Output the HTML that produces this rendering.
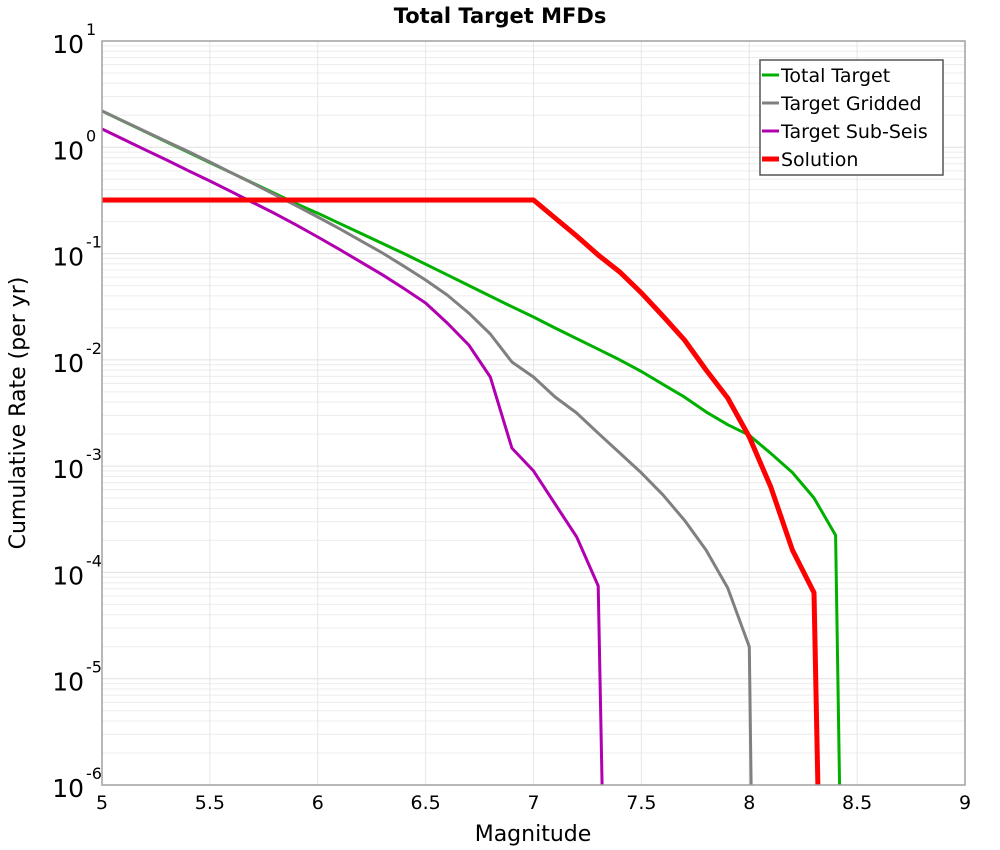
<!DOCTYPE html>
<html><head><meta charset="utf-8"><style>
body{margin:0;background:#fff;}
svg{display:block;font-family:"DejaVu Sans","Liberation Sans",sans-serif;}
</style></head><body>
<svg id="chart" width="1000" height="850" viewBox="0 0 1000 850">
<text x="500" y="23" text-anchor="middle" font-size="21" font-weight="bold">Total Target MFDs</text>
<g id="grid"></g>
<g id="yticks"></g>
<g id="xticks"></g>
<defs><clipPath id="clip"><rect x="102" y="41" width="863" height="744"/></clipPath></defs>
<g id="series" clip-path="url(#clip)"></g>
<rect x="102" y="41" width="863" height="744" fill="none" stroke="#a0a0a0" stroke-width="1.5"/>
<text x="533" y="841" text-anchor="middle" font-size="22">Magnitude</text>
<text transform="translate(25,413) rotate(-90)" text-anchor="middle" font-size="22">Cumulative Rate (per yr)</text>
<g>
<rect x="760" y="60" width="183" height="115" fill="#fff" stroke="#555" stroke-width="1.5"/>
<g><line x1="762" y1="75" x2="779" y2="75" stroke="#00b000" stroke-width="3"/><text x="781" y="82" font-size="19">Total Target</text></g>
<g><line x1="762" y1="103" x2="779" y2="103" stroke="#808080" stroke-width="3"/><text x="781" y="110" font-size="19">Target Gridded</text></g>
<g><line x1="762" y1="131" x2="779" y2="131" stroke="#b000b0" stroke-width="3"/><text x="781" y="138" font-size="19">Target Sub-Seis</text></g>
<g><line x1="762" y1="159" x2="779" y2="159" stroke="#ff0000" stroke-width="5"/><text x="781" y="166" font-size="19">Solution</text></g>
</g>
</svg>
<script>
// magnitudes and log10 cumulative rates
const greenMag = [5.0,5.1,5.2,5.3,5.4,5.5,5.6,5.7,5.8,5.9,6.0,6.1,6.2,6.3,6.4,6.5,6.6,6.7,6.8,6.9,7.0,7.1,7.2,7.3,7.4,7.5,7.6,7.7,7.8,7.9,8.0,8.1,8.2,8.3,8.4,8.42];
const greenLog = [0.341,0.244,0.147,0.05,-0.047,-0.144,-0.24,-0.337,-0.434,-0.531,-0.62,-0.715,-0.81,-0.905,-1.0,-1.1,-1.2,-1.3,-1.4,-1.5,-1.597,-1.7,-1.8,-1.9,-2.0,-2.11,-2.23,-2.35,-2.49,-2.61,-2.71,-2.88,-3.06,-3.3,-3.65,-6.2];
const grayMag = [5.0,5.1,5.2,5.3,5.4,5.5,5.6,5.7,5.8,5.9,6.0,6.1,6.2,6.3,6.4,6.5,6.6,6.7,6.8,6.9,7.0,7.1,7.2,7.3,7.4,7.5,7.6,7.7,7.8,7.9,8.0,8.01];
const grayLog = [0.341,0.245,0.15,0.054,-0.04,-0.138,-0.24,-0.34,-0.445,-0.55,-0.656,-0.765,-0.88,-0.995,-1.12,-1.249,-1.39,-1.56,-1.757,-2.02,-2.161,-2.349,-2.5,-2.69,-2.876,-3.064,-3.27,-3.51,-3.79,-4.146,-4.7,-6.2];
const magMag = [5.0,5.1,5.2,5.3,5.4,5.5,5.6,5.7,5.8,5.9,6.0,6.1,6.2,6.3,6.4,6.5,6.6,6.7,6.8,6.9,7.0,7.1,7.2,7.3,7.32];
const magLog = [0.172,0.074,-0.024,-0.12,-0.22,-0.317,-0.418,-0.52,-0.622,-0.73,-0.844,-0.96,-1.08,-1.2,-1.33,-1.465,-1.653,-1.86,-2.161,-2.83,-3.045,-3.356,-3.667,-4.127,-6.2];
const redMag = [5.0,7.0,7.1,7.2,7.3,7.4,7.5,7.6,7.7,7.8,7.9,8.0,8.1,8.2,8.3,8.32];
const redLog = [-0.496,-0.496,-0.665,-0.835,-1.013,-1.173,-1.37,-1.587,-1.813,-2.095,-2.359,-2.726,-3.196,-3.789,-4.19,-6.2];
const xTicks = ["5","5.5","6","6.5","7","7.5","8","8.5","9"];
const yExps = [1,0,-1,-2,-3,-4,-5,-6];

const X0=102,X1=965,Y0=41,Y1=785,XMIN=5,XMAX=9,LMAX=1,LMIN=-6;
const sx = m => X0+(m-XMIN)/(XMAX-XMIN)*(X1-X0);
const sy = l => Y0+(LMAX-l)/(LMAX-LMIN)*(Y1-Y0);
const NS='http://www.w3.org/2000/svg';
function mk(tag,attrs,parent){const e=document.createElementNS(NS,tag);for(const k in attrs)e.setAttribute(k,attrs[k]);parent.appendChild(e);return e;}
const grid=document.getElementById('grid');
for(let d=LMIN; d<LMAX; d++){
  for(let k=2;k<=9;k++){
    const ln=mk('line',{x1:X0,x2:X1,y1:sy(d+Math.log10(k)),y2:sy(d+Math.log10(k)),stroke:'#ececec','stroke-width':1},grid);
    
    
  }
}
yExps.forEach(e=>{
  const ln=mk('line',{x1:X0,x2:X1,y1:sy(e),y2:sy(e),stroke:'#e0e0e0','stroke-width':1},grid);
  
  
});
xTicks.forEach(t=>{
  const ln=mk('line',{x1:sx(+t),x2:sx(+t),y1:Y0,y2:Y1,stroke:'#e6e6e6','stroke-width':1},grid);
  
  
});
const yt=document.getElementById('yticks');
yExps.forEach(e=>{
  const t=mk('text',{x:84,y:sy(e)+12,'text-anchor':'end','font-size':25},yt);
  t.textContent='10';
  
  
  const s=mk('text',{x:86,y:sy(e)-6,'font-size':16},yt);
  s.textContent=String(e);
  
  
});
const xt=document.getElementById('xticks');
xTicks.forEach(t=>{
  const e=mk('text',{x:sx(+t),y:809,'text-anchor':'middle','font-size':19},xt);
  e.textContent=t;
  
  
});
const ser=document.getElementById('series');
function draw(mags,logs,color,w,name){
  const d=mags.map((m,i)=>(i?'L':'M')+sx(m).toFixed(1)+','+sy(logs[i]).toFixed(1)).join(' ');
  const p=mk('path',{d:d,fill:'none',stroke:color,'stroke-width':w,'stroke-linejoin':'round'},ser);
  
  
}
draw(greenMag,greenLog,'#00b000',3,'line-total-target');
draw(grayMag,grayLog,'#808080',3,'line-target-gridded');
draw(magMag,magLog,'#b000b0',3,'line-target-sub-seis');
draw(redMag,redLog,'#ff0000',5,'line-solution');
</script>
</body></html>
